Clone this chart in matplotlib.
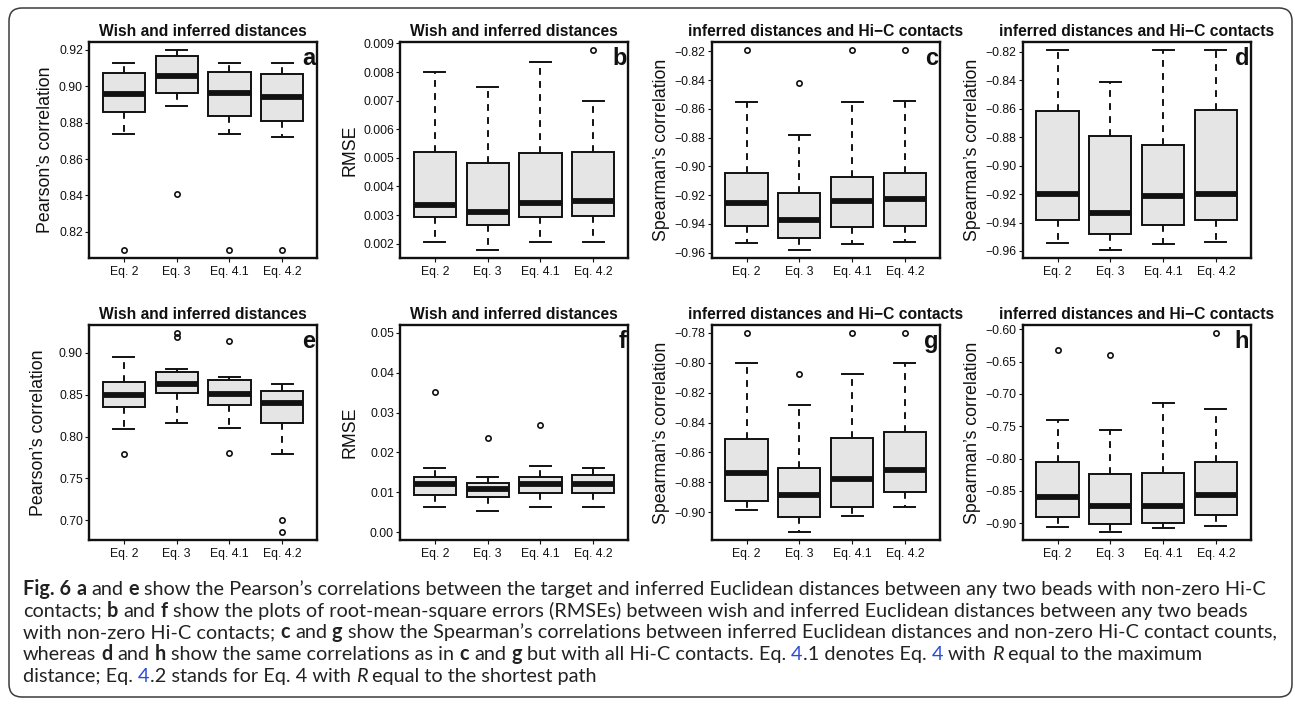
import matplotlib
matplotlib.use("Agg")
import matplotlib.pyplot as plt
from matplotlib.patches import FancyBboxPatch
from matplotlib.font_manager import FontProperties

# ---------------- data ----------------
groups = ["Eq. 2", "Eq. 3", "Eq. 4.1", "Eq. 4.2"]

# five-number summaries per group: [whisker low, Q1, median, Q3, whisker high]
a_stats = [[0.8737, 0.8861, 0.8959, 0.9074, 0.9131],
           [0.8891, 0.8963, 0.9056, 0.9169, 0.9200],
           [0.8737, 0.8837, 0.8961, 0.9078, 0.9131],
           [0.8722, 0.8811, 0.8943, 0.9067, 0.9130]]
a_out = [[0.810], [0.841], [0.810], [0.810]]

b_stats = [[0.00205, 0.00295, 0.00334, 0.00522, 0.00800],
           [0.00178, 0.00264, 0.00312, 0.00481, 0.00747],
           [0.00205, 0.00295, 0.00342, 0.00518, 0.00835],
           [0.00205, 0.00298, 0.00348, 0.00522, 0.00700]]
b_out = [[], [], [], [0.00877]]

c_stats = [[-0.9535, -0.9413, -0.9252, -0.9047, -0.8550],
           [-0.9581, -0.9497, -0.9369, -0.9185, -0.8779],
           [-0.9537, -0.9418, -0.9238, -0.9070, -0.8550],
           [-0.9523, -0.9413, -0.9229, -0.9047, -0.8543]]
c_out = [[-0.819], [-0.8417], [-0.819], [-0.819]]

d_stats = [[-0.9546, -0.9384, -0.9198, -0.8616, -0.8188],
           [-0.9593, -0.9482, -0.9336, -0.8795, -0.8416],
           [-0.9553, -0.9416, -0.9212, -0.8854, -0.8190],
           [-0.9534, -0.9379, -0.9202, -0.8607, -0.8190]]
d_out = [[], [], [], []]

e_stats = [[0.8089, 0.8355, 0.8492, 0.8649, 0.8948],
           [0.8165, 0.8516, 0.8625, 0.8766, 0.8802],
           [0.8097, 0.8375, 0.8508, 0.8677, 0.8710],
           [0.7790, 0.8157, 0.8403, 0.8548, 0.8625]]
e_out = [[0.7794], [0.9238, 0.9194], [0.9137, 0.7802], [0.7008, 0.6860]]

f_stats = [[0.0062, 0.0094, 0.0120, 0.0137, 0.0160],
           [0.0053, 0.0087, 0.0109, 0.0124, 0.0138],
           [0.0062, 0.0098, 0.0120, 0.0139, 0.0166],
           [0.0062, 0.0099, 0.0121, 0.0143, 0.0160]]
f_out = [[0.0351], [0.0235], [0.0268], []]

g_stats = [[-0.8989, -0.8926, -0.8736, -0.8509, -0.8000],
           [-0.9134, -0.9034, -0.8888, -0.8704, -0.8281],
           [-0.9029, -0.8966, -0.8778, -0.8503, -0.8073],
           [-0.8969, -0.8868, -0.8715, -0.8464, -0.8003]]
g_out = [[-0.780], [-0.8073], [-0.780], [-0.780]]

h_stats = [[-0.9053, -0.8902, -0.8588, -0.8053, -0.7403],
           [-0.9136, -0.9016, -0.8729, -0.8235, -0.7564],
           [-0.9080, -0.8990, -0.8729, -0.8224, -0.7138],
           [-0.9040, -0.8870, -0.8568, -0.8053, -0.7237]]
h_out = [[-0.6327], [-0.6400], [], [-0.6057]]

a_ticks = [0.82, 0.84, 0.86, 0.88, 0.90, 0.92]
b_ticks = [0.002, 0.003, 0.004, 0.005, 0.006, 0.007, 0.008, 0.009]
c_ticks = [-0.96, -0.94, -0.92, -0.90, -0.88, -0.86, -0.84, -0.82]
d_ticks = [-0.96, -0.94, -0.92, -0.90, -0.88, -0.86, -0.84, -0.82]
e_ticks = [0.70, 0.75, 0.80, 0.85, 0.90]
f_ticks = [0.00, 0.01, 0.02, 0.03, 0.04, 0.05]
g_ticks = [-0.90, -0.88, -0.86, -0.84, -0.82, -0.80, -0.78]
h_ticks = [-0.90, -0.85, -0.80, -0.75, -0.70, -0.65, -0.60]
f_range = (0.0, 0.05)

title_wish = "Wish and inferred distances"
title_hic = "inferred distances and Hi\u2212C contacts"
lab_pearson = "Pearson\u2019s correlation"
lab_rmse = "RMSE"
lab_spearman = "Spearman\u2019s correlation"

caption_lines = [
    [("Fig. 6", "b"), (" ", "r"), ("a", "b"), (" and ", "r"), ("e", "b"),
     (" show the Pearson\u2019s correlations between the target and inferred Euclidean distances between any two beads with non-zero Hi-C", "r")],
    [("contacts; ", "r"), ("b", "b"), (" and ", "r"), ("f", "b"),
     (" show the plots of root-mean-square errors (RMSEs) between wish and inferred Euclidean distances between any two beads", "r")],
    [("with non-zero Hi-C contacts; ", "r"), ("c", "b"), (" and ", "r"), ("g", "b"),
     (" show the Spearman\u2019s correlations between inferred Euclidean distances and non-zero Hi-C contact counts,", "r")],
    [("whereas ", "r"), ("d", "b"), (" and ", "r"), ("h", "b"), (" show the same correlations as in ", "r"),
     ("c", "b"), (" and ", "r"), ("g", "b"), (" but with all Hi-C contacts. Eq. ", "r"), ("4", "l"),
     (".1 denotes Eq. ", "r"), ("4", "l"), (" with ", "r"), ("R", "i"), (" equal to the maximum", "r")],
    [("distance; Eq. ", "r"), ("4", "l"), (".2 stands for Eq. 4 with ", "r"), ("R", "i"),
     (" equal to the shortest path", "r")],
]

panels = [
    dict(stats=a_stats, out=a_out, title=title_wish, ylabel=lab_pearson, ticks=a_ticks, dec=2, letter="a", fixed=None),
    dict(stats=b_stats, out=b_out, title=title_wish, ylabel=lab_rmse, ticks=b_ticks, dec=3, letter="b", fixed=None),
    dict(stats=c_stats, out=c_out, title=title_hic, ylabel=lab_spearman, ticks=c_ticks, dec=2, letter="c", fixed=None),
    dict(stats=d_stats, out=d_out, title=title_hic, ylabel=lab_spearman, ticks=d_ticks, dec=2, letter="d", fixed=None),
    dict(stats=e_stats, out=e_out, title=title_wish, ylabel=lab_pearson, ticks=e_ticks, dec=2, letter="e", fixed=None),
    dict(stats=f_stats, out=f_out, title=title_wish, ylabel=lab_rmse, ticks=f_ticks, dec=2, letter="f", fixed=f_range),
    dict(stats=g_stats, out=g_out, title=title_hic, ylabel=lab_spearman, ticks=g_ticks, dec=2, letter="g", fixed=None),
    dict(stats=h_stats, out=h_out, title=title_hic, ylabel=lab_spearman, ticks=h_ticks, dec=2, letter="h", fixed=None),
]

# ---------------- layout / style ----------------
W, H = 1295, 708
col_left = [89, 400, 711.7, 1022.7]
ax_w = 228
row_top = [42, 325]
row_h = [216, 215]
ylab_dist = [39, 46, 46, 46, 46, 46, 46, 46]

FONT = "Liberation Sans"
CAP_FONT = "Lato"
box_face = "#e4e5e4"
ink = "#111111"

plt.rcParams["font.family"] = [FONT, "DejaVu Sans"]

fig = plt.figure(figsize=(W / 100, H / 100), dpi=100)

# outer rounded frame (in inches)
frame = FancyBboxPatch((9 / 100, (H - 697) / 100), (1292 - 9) / 100, (697 - 8) / 100,
                       boxstyle="round,pad=0,rounding_size=0.13",
                       transform=fig.dpi_scale_trans, facecolor="none",
                       edgecolor="#3c3c3c", linewidth=1.1)
fig.add_artist(frame)

for i, p in enumerate(panels):
    r, c = divmod(i, 4)
    left = col_left[c]
    top = row_top[r]
    hgt = row_h[r]
    ax = fig.add_axes([left / W, 1 - (top + hgt) / H, ax_w / W, hgt / H])

    bx = []
    for g, s, o in zip(groups, p["stats"], p["out"]):
        bx.append(dict(whislo=s[0], q1=s[1], med=s[2], q3=s[3], whishi=s[4], fliers=o, label=g))
    ax.bxp(bx, positions=[1, 2, 3, 4], widths=0.8, capwidths=0.4, patch_artist=True,
           showfliers=True,
           boxprops=dict(facecolor=box_face, edgecolor=ink, linewidth=1.4),
           medianprops=dict(color=ink, linewidth=4.2, solid_capstyle="butt"),
           whiskerprops=dict(color=ink, linewidth=1.4, linestyle=(0, (3.5, 3.2))),
           capprops=dict(color=ink, linewidth=1.4),
           flierprops=dict(marker="o", markerfacecolor="none", markeredgecolor=ink,
                           markersize=3.8, markeredgewidth=1.2, linestyle="none"))

    if p["fixed"] is not None:
        lo, hi = p["fixed"]
    else:
        vals = [v for s in p["stats"] for v in s] + [v for o in p["out"] for v in o]
        lo, hi = min(vals), max(vals)
    pad = 0.04 * (hi - lo)
    ax.set_ylim(lo - pad, hi + pad)
    ax.set_xlim(0.34, 4.66)

    ax.set_yticks(p["ticks"])
    ax.set_yticklabels([f"{t:.{p['dec']}f}".replace("-", "\u2212") for t in p["ticks"]])
    ax.set_xticks([1, 2, 3, 4])
    ax.set_xticklabels(groups)

    ax.tick_params(axis="both", direction="out", length=3.0, width=0.8, colors=ink,
                   labelsize=8.8, top=False, right=False)
    ax.tick_params(axis="x", pad=2.6)
    ax.tick_params(axis="y", pad=1.4)
    for sp in ax.spines.values():
        sp.set_linewidth(1.7)
        sp.set_color(ink)

    ax.set_title(p["title"], fontsize=11.25, fontweight="bold", pad=4.3, color=ink)

    ax.text(-ylab_dist[i] / ax_w, 0.5, p["ylabel"], transform=ax.transAxes,
            rotation=90, rotation_mode="anchor", ha="center", va="baseline",
            fontsize=12.8, color=ink)

    ax.annotate(p["letter"], xy=(1, 1), xycoords="axes fraction",
                xytext=(-1.5, -23), textcoords="offset pixels",
                ha="right", va="baseline", fontsize=17, fontweight="bold", color=ink)

# ---------------- caption ----------------
renderer = fig.canvas.get_renderer()


def fprops(kind, size):
    if kind == "b":
        return FontProperties(family=CAP_FONT, weight="bold", size=size)
    if kind == "i":
        return FontProperties(family=CAP_FONT, style="italic", size=size)
    return FontProperties(family=CAP_FONT, size=size)


def seg_width(txt, fp):
    if not txt:
        return 0.0
    w1, _, _ = renderer.get_text_width_height_descent("|" + txt + "|", fp, ismath=False)
    w0, _, _ = renderer.get_text_width_height_descent("||", fp, ismath=False)
    return w1 - w0


base = 12.0
w_line1 = sum(seg_width(t, fprops(k, base)) for t, k in caption_lines[0])
cap_size = base * 1243.0 / w_line1

cap_x0 = 23
cap_y0 = 595
cap_step = 21.7
for li, line in enumerate(caption_lines):
    x = cap_x0
    y = cap_y0 + li * cap_step
    for txt, kind in line:
        fp = fprops(kind, cap_size)
        color = "#2a4bd7" if kind == "l" else "#222222"
        body = txt.lstrip(" ")
        lead = txt[:len(txt) - len(body)]
        x += seg_width(lead, fprops("r", cap_size))
        core = body.rstrip(" ")
        trail = body[len(core):]
        if core:
            fig.text(x / W, 1 - y / H, core, fontproperties=fp, color=color,
                     ha="left", va="baseline")
        x += seg_width(core, fp)
        x += seg_width(trail, fprops("r", cap_size))

fig.savefig("out.png", dpi=100)
